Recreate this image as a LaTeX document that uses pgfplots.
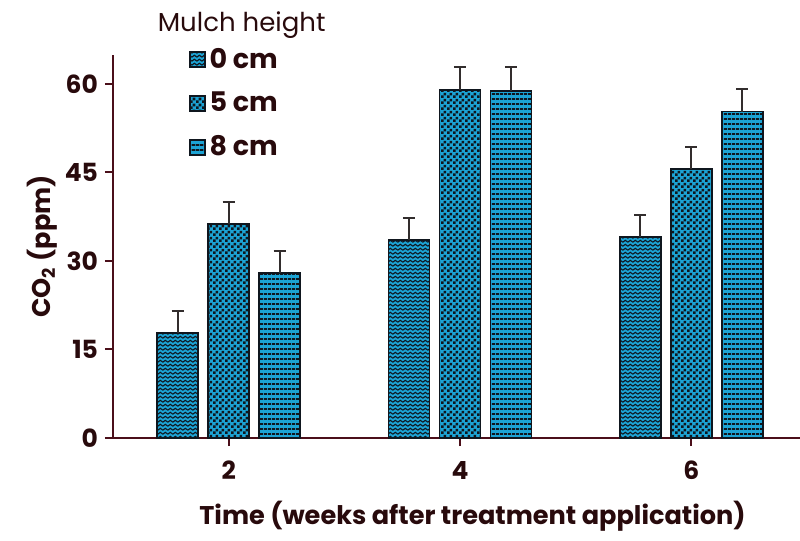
\documentclass[border=0pt]{standalone}
\usepackage{pgfplots}
\pgfplotsset{compat=1.18}
\usepackage{fontspec}
\setmainfont{Poppins}
\usetikzlibrary{patterns.meta,calc}

\definecolor{barcyan}{RGB}{28,163,212}
\definecolor{barline}{RGB}{15,22,30}
\definecolor{axcol}{RGB}{75,15,26}
\definecolor{txt}{RGB}{40,10,12}
\definecolor{errcol}{RGB}{50,45,45}

% fill patterns of the three series
\tikzdeclarepattern{
  name=mywave, type=uncolored,
  bottom left={(0pt,0pt)}, top right={(2.4pt,2.2pt)}, tile size={(2.4pt,2.2pt)},
  code={\draw[line width=0.6pt] (-0.2pt,0.4pt) -- (1.2pt,1.5pt) -- (2.6pt,0.4pt);}
}
\tikzdeclarepattern{
  name=mychecker, type=uncolored,
  bottom left={(0pt,0pt)}, top right={(2.8pt,2.8pt)}, tile size={(2.8pt,2.8pt)},
  code={\fill (0pt,0pt) rectangle (1.4pt,1.4pt);
        \fill (1.4pt,1.4pt) rectangle (2.8pt,2.8pt);}
}
\tikzdeclarepattern{
  name=myhlines, type=uncolored,
  bottom left={(0pt,0pt)}, top right={(2pt,2.4pt)}, tile size={(2pt,2.4pt)},
  code={\fill (0pt,0pt) rectangle (2pt,0.95pt);}
}

\begin{document}
\begin{tikzpicture}
\begin{axis}[
    name=ax,
    scale only axis,
    width=343.5pt, height=191.5pt,
    xmin=1, xmax=6.94,
    ymin=0, ymax=64.9,
    axis lines*=left,
    axis line style={axcol, line width=1.1pt},
    ybar=5pt, bar width=20.5pt,
    xtick={2,4,6},
    ytick={0,15,30,45,60},
    tick align=outside,
    tick style={axcol, line width=1pt},
    major tick length=4pt,
    ticklabel style={font=\bfseries\fontsize{12.5}{14}\selectfont, text=txt},
    xticklabel style={yshift=-4pt},
    /pgf/number format/assume math mode=true,
    xlabel={Time (weeks after treatment application)},
    ylabel={CO\textsubscript{2} (ppm)},
    label style={font=\bfseries\fontsize{12.8}{14}\selectfont, text=txt},
    xlabel style={yshift=-4pt, xshift=8pt},
    ylabel style={yshift=-3pt},
    legend style={draw=none, fill=none, at={(rel axis cs:0.11,1.03)}, anchor=north west,
        font=\bfseries\fontsize{13.5}{15}\selectfont, text=txt,
        row sep=6.5pt, inner sep=0pt},
    legend cell align=left,
    legend image code/.code={\draw[#1] (0pt,-3.75pt) rectangle (7.5pt,3.75pt);},
    error bars/y dir=plus, error bars/y explicit,
    error bars/error bar style={errcol, line width=1pt},
    error bars/error mark options={errcol, line width=1pt, mark size=3pt, rotate=90},
    clip=false,
]
\addplot[draw=barline, line width=0.8pt, fill=barcyan,
    postaction={pattern=mywave, pattern color=barline}]
    coordinates {(2,17.8) +- (0,3.7) (4,33.6) +- (0,3.7) (6,34.1) +- (0,3.7)};
\addplot[draw=barline, line width=0.8pt, fill=barcyan,
    postaction={pattern=mychecker, pattern color=barline}]
    coordinates {(2,36.3) +- (0,3.7) (4,59.0) +- (0,3.9) (6,45.6) +- (0,3.7)};
\addplot[draw=barline, line width=0.8pt, fill=barcyan,
    postaction={pattern=myhlines, pattern color=barline}]
    coordinates {(2,28.0) +- (0,3.7) (4,58.8) +- (0,4.0) (6,55.3) +- (0,3.9)};
\legend{0 cm, 5 cm, 8 cm}
\node[anchor=west, font=\fontsize{13}{15}\selectfont, text=txt] at (rel axis cs:0.055,1.078) {Mulch height};
\end{axis}
\pgfresetboundingbox
\path ($(ax.south west)+(-56.5pt,-51pt)$) rectangle ($(ax.north east)+(0pt,27.5pt)$);
\end{tikzpicture}
\end{document}
